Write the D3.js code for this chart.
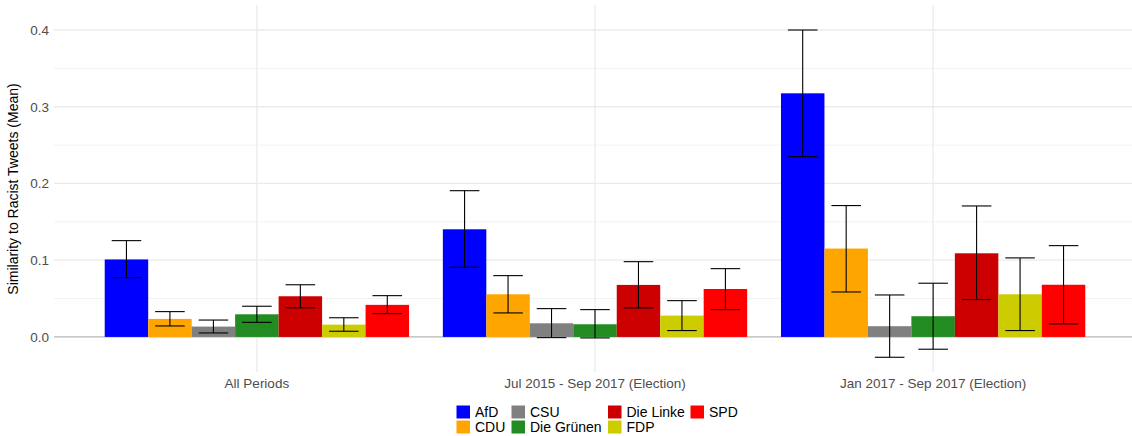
<!DOCTYPE html>
<html>
<head>
<meta charset="utf-8">
<script src="https://cdn.jsdelivr.net/npm/d3@7"></script>
<style>
  html, body { margin: 0; padding: 0; background: #ffffff; }
  svg { display: block; font-family: "Liberation Sans", Arial, sans-serif; }
</style>
</head>
<body>
<svg id="chart" width="1132" height="436"></svg>
<script>
// Periods on the x axis and parties within each period
const periods = ["All Periods", "Jul 2015 - Sep 2017 (Election)", "Jan 2017 - Sep 2017 (Election)"];
const parties = ["AfD", "CDU", "CSU", "Die Grünen", "Die Linke", "FDP", "SPD"];
const partyColors = ["#0000FF", "#FFA500", "#808080", "#228B22", "#CC0000", "#CCCC00", "#FF0000"];

// Mean similarity per party, one array per period (party order as above)
const meanAllPeriods = [0.101, 0.0235, 0.0135, 0.0295, 0.053, 0.016, 0.0418];
const meanJul2015 = [0.1403, 0.0556, 0.0178, 0.0165, 0.0678, 0.0278, 0.0625];
const meanJan2017 = [0.3175, 0.1152, 0.014, 0.027, 0.109, 0.0556, 0.068];

// Error bar bounds per party, one array per period
const lowerAllPeriods = [0.0773, 0.0143, 0.0052, 0.019, 0.038, 0.0074, 0.0304];
const upperAllPeriods = [0.1255, 0.033, 0.022, 0.040, 0.068, 0.025, 0.0538];
const lowerJul2015 = [0.0908, 0.0313, -0.0009, -0.0013, 0.0378, 0.0083, 0.0356];
const upperJul2015 = [0.1906, 0.0799, 0.0369, 0.0356, 0.0981, 0.0473, 0.089];
const lowerJan2017 = [0.235, 0.0586, -0.0265, -0.016, 0.0487, 0.0083, 0.017];
const upperJan2017 = [0.400, 0.1712, 0.0547, 0.070, 0.1707, 0.103, 0.119];

const yTicks = [0.0, 0.1, 0.2, 0.3, 0.4];
const yMinorTicks = [0.05, 0.15, 0.25, 0.35];
const yTitle = "Similarity to Racist Tweets (Mean)";

const means = [meanAllPeriods, meanJul2015, meanJan2017];
const lowers = [lowerAllPeriods, lowerJul2015, lowerJan2017];
const uppers = [upperAllPeriods, upperJul2015, upperJan2017];

const rows = [];
periods.forEach((p, i) => {
  parties.forEach((party, j) => {
    rows.push({ period: p, party, mean: means[i][j], lo: lowers[i][j], hi: uppers[i][j] });
  });
});

const svg = d3.select("#chart");
const panel = { left: 54, right: 1136, top: 5, bottom: 372 };

const y = d3.scaleLinear()
  .domain([-0.0457, 0.4326])
  .range([panel.bottom, panel.top]);

const x0 = d3.scaleBand()
  .domain(periods)
  .range([panel.left, panel.right])
  .paddingInner(0.1)
  .paddingOuter(0.15);

const x1 = d3.scaleBand()
  .domain(parties)
  .range([0, x0.bandwidth()])
  .padding(0);

const color = d3.scaleOrdinal().domain(parties).range(partyColors);

const textColor = "#4d4d4d";
const gridColor = "#ebebeb";

// Grid lines
const grid = svg.append("g");
grid.selectAll("line.minor")
  .data(yMinorTicks)
  .join("line")
  .attr("x1", panel.left).attr("x2", panel.right)
  .attr("y1", d => y(d)).attr("y2", d => y(d))
  .attr("stroke", "#f2f2f2").attr("stroke-width", 1);
grid.selectAll("line.major")
  .data(yTicks)
  .join("line")
  .attr("x1", panel.left).attr("x2", panel.right)
  .attr("y1", d => y(d)).attr("y2", d => y(d))
  .attr("stroke", gridColor).attr("stroke-width", 1.3);
grid.selectAll("line.vert")
  .data(periods)
  .join("line")
  .attr("x1", d => x0(d) + x0.bandwidth() / 2)
  .attr("x2", d => x0(d) + x0.bandwidth() / 2)
  .attr("y1", panel.top).attr("y2", panel.bottom)
  .attr("stroke", gridColor).attr("stroke-width", 1.3);

// Zero reference line
svg.append("line")
  .attr("x1", panel.left).attr("x2", panel.right)
  .attr("y1", y(0)).attr("y2", y(0))
  .attr("stroke", "#bdbdbd").attr("stroke-width", 1.2);

// Bars
const barX = d => x0(d.period) + x1(d.party);
svg.append("g")
  .selectAll("rect")
  .data(rows)
  .join("rect")
  .attr("x", barX)
  .attr("width", x1.bandwidth())
  .attr("y", d => y(Math.max(0, d.mean)))
  .attr("height", d => Math.abs(y(d.mean) - y(0)))
  .attr("fill", d => color(d.party));

// Error bars
const whisker = x1.bandwidth() * 0.68;
const eb = svg.append("g").attr("stroke", "#000").attr("stroke-width", 1.1);
rows.forEach(d => {
  const cx = barX(d) + x1.bandwidth() / 2;
  eb.append("line").attr("x1", cx).attr("x2", cx).attr("y1", y(d.hi)).attr("y2", y(d.lo));
  eb.append("line").attr("x1", cx - whisker / 2).attr("x2", cx + whisker / 2).attr("y1", y(d.hi)).attr("y2", y(d.hi));
  eb.append("line").attr("x1", cx - whisker / 2).attr("x2", cx + whisker / 2).attr("y1", y(d.lo)).attr("y2", y(d.lo));
});

// Y axis labels
const yAxis = svg.append("g")
  .attr("transform", `translate(${panel.left},0)`)
  .call(d3.axisLeft(y).tickValues(yTicks).tickFormat(d3.format(".1f")).tickSize(0).tickPadding(5));
yAxis.select(".domain").remove();
yAxis.selectAll("text")
  .attr("fill", textColor)
  .style("font-size", "13.5px")
  .style("font-family", "'Liberation Sans', Arial, sans-serif");

// X axis labels
const xAxis = svg.append("g")
  .attr("transform", `translate(0,${panel.bottom})`)
  .call(d3.axisBottom(x0).tickSize(0).tickPadding(6));
xAxis.select(".domain").remove();
xAxis.selectAll("text")
  .attr("fill", textColor)
  .style("font-size", "13.5px")
  .style("font-family", "'Liberation Sans', Arial, sans-serif");

// Y title
svg.append("text")
  .attr("transform", `translate(18,189) rotate(-90)`)
  .attr("text-anchor", "middle")
  .attr("fill", "#000")
  .style("font-size", "14px")
  .text(yTitle);

// Legend: four columns, filled column by column
const legendCols = [456.5, 511.5, 608, 690.5];
const legendRows = [405.5, 420.5];
const legend = svg.append("g");
parties.forEach((party, i) => {
  const col = Math.floor(i / 2);
  const row = i % 2;
  const g = legend.append("g").attr("transform", `translate(${legendCols[col]},${legendRows[row]})`);
  g.append("rect").attr("width", 13.5).attr("height", 13).attr("fill", partyColors[i]);
  g.append("text")
    .attr("x", 18.5).attr("y", 6.8)
    .attr("dominant-baseline", "central")
    .attr("fill", "#000")
    .style("font-size", "14px")
    .text(party);
});
</script>
</body>
</html>
